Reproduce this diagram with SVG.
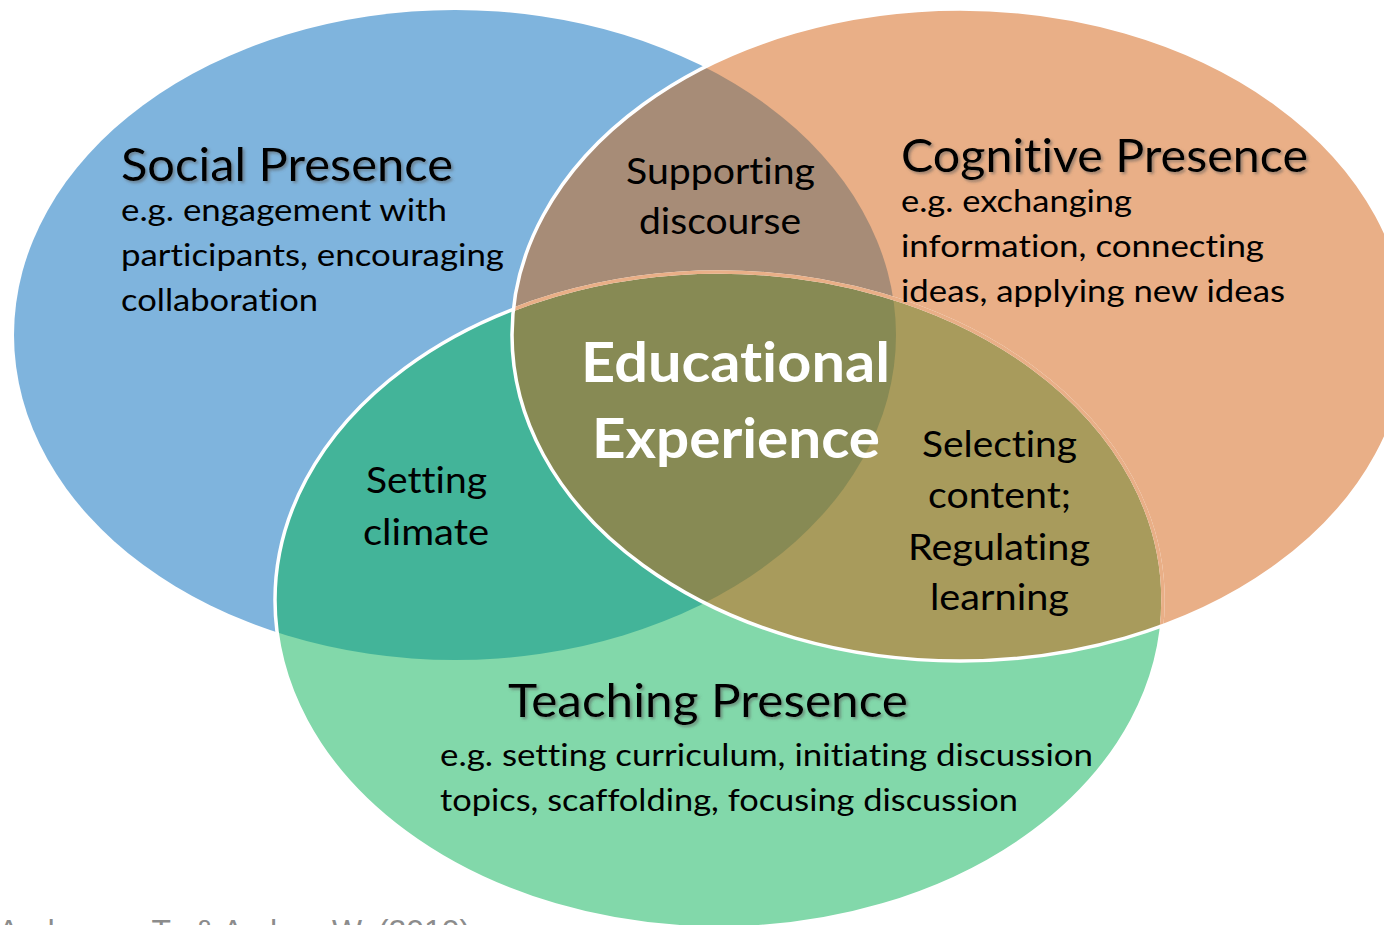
<svg xmlns="http://www.w3.org/2000/svg" width="1384" height="925" viewBox="0 0 1384 925">
<style>
  text { font-variant-ligatures: none; font-feature-settings: "liga" 0, "clig" 0; }
  .title { font-family: Lato, "Open Sans", sans-serif; font-size: 46px; fill: #000; }
  .body { font-family: Lato, "Open Sans", sans-serif; font-size: 31px; fill: #000; }
  .lbl { font-family: Lato, "Open Sans", sans-serif; font-size: 36px; fill: #000; }
  .center { font-family: Lato, "Open Sans", sans-serif; font-size: 56px; font-weight: bold; fill: #fff; }
  .cite { font-family: "Liberation Sans", Arial, sans-serif; font-size: 32px; fill: #8c8c8c; }
</style>
<defs>
  <clipPath id="clipBlue"><ellipse cx="455" cy="335" rx="441" ry="325"/></clipPath>
  <clipPath id="clipOrange"><ellipse cx="960" cy="335" rx="448" ry="326"/></clipPath>
  <filter id="shadow" x="-5%" y="-20%" width="110%" height="140%">
    <feDropShadow dx="2" dy="2" stdDeviation="1.5" flood-color="#555" flood-opacity="0.55"/>
  </filter>
</defs>
<rect width="1384" height="925" fill="#fff"/>

<g id="social-presence">
  <ellipse cx="455" cy="335" rx="441" ry="325" fill="#7FB4DD"/>
</g>
<g id="cognitive-presence">
  <ellipse cx="960" cy="335" rx="448" ry="326" fill="#E9AF87"/>
</g>
<g id="teaching-presence">
  <ellipse cx="719" cy="600" rx="444" ry="328" fill="#82D8AA"/>
</g>
<g id="supporting-discourse">
  <ellipse cx="960" cy="335" rx="448" ry="326" fill="#A78C77" clip-path="url(#clipBlue)"/>
</g>
<g id="setting-climate">
  <ellipse cx="719" cy="600" rx="444" ry="328" fill="#43B499" clip-path="url(#clipBlue)"/>
</g>
<g id="selecting-content">
  <ellipse cx="719" cy="600" rx="444" ry="328" fill="#A89B5C" clip-path="url(#clipOrange)"/>
</g>
<g id="educational-experience">
  <g clip-path="url(#clipBlue)">
    <ellipse cx="719" cy="600" rx="444" ry="328" fill="#878A54" clip-path="url(#clipOrange)"/>
  </g>
</g>

<g id="outlines">
  <ellipse cx="719" cy="600" rx="444" ry="328" fill="none" stroke="#fff" stroke-width="3.5"/>
  <ellipse cx="719" cy="600" rx="444" ry="328" fill="none" stroke="#E9AF87" stroke-width="3.5" clip-path="url(#clipOrange)"/>
  <ellipse cx="960" cy="335" rx="448" ry="326" fill="none" stroke="#fff" stroke-width="3.5"/>
</g>

<g id="texts">
  <text class="title" x="121" y="181" textLength="332" lengthAdjust="spacingAndGlyphs" filter="url(#shadow)">Social Presence</text>
  <text class="body" x="121" y="221" textLength="326" lengthAdjust="spacingAndGlyphs">e.g. engagement with</text>
  <text class="body" x="121" y="266" textLength="383" lengthAdjust="spacingAndGlyphs">participants, encouraging</text>
  <text class="body" x="121" y="311" textLength="197" lengthAdjust="spacingAndGlyphs">collaboration</text>

  <text class="title" x="901" y="172" textLength="407" lengthAdjust="spacingAndGlyphs" filter="url(#shadow)">Cognitive Presence</text>
  <text class="body" x="901" y="212" textLength="231" lengthAdjust="spacingAndGlyphs">e.g. exchanging</text>
  <text class="body" x="901" y="257" textLength="363" lengthAdjust="spacingAndGlyphs">information, connecting</text>
  <text class="body" x="901" y="302" textLength="384" lengthAdjust="spacingAndGlyphs">ideas, applying new ideas</text>

  <text class="title" x="508" y="717" textLength="400" lengthAdjust="spacingAndGlyphs" filter="url(#shadow)">Teaching Presence</text>
  <text class="body" x="440" y="766" textLength="653" lengthAdjust="spacingAndGlyphs">e.g. setting curriculum, initiating discussion</text>
  <text class="body" x="440" y="811" textLength="578" lengthAdjust="spacingAndGlyphs">topics, scaffolding, focusing discussion</text>

  <text class="lbl" x="626" y="184" textLength="189" lengthAdjust="spacingAndGlyphs">Supporting</text>
  <text class="lbl" x="639" y="234" textLength="162" lengthAdjust="spacingAndGlyphs">discourse</text>

  <text class="lbl" x="366" y="493" textLength="121" lengthAdjust="spacingAndGlyphs">Setting</text>
  <text class="lbl" x="363" y="545" textLength="126" lengthAdjust="spacingAndGlyphs">climate</text>

  <text class="lbl" x="922" y="457" textLength="155" lengthAdjust="spacingAndGlyphs">Selecting</text>
  <text class="lbl" x="928" y="508" textLength="143" lengthAdjust="spacingAndGlyphs">content;</text>
  <text class="lbl" x="908" y="560" textLength="182" lengthAdjust="spacingAndGlyphs">Regulating</text>
  <text class="lbl" x="930" y="610" textLength="139" lengthAdjust="spacingAndGlyphs">learning</text>

  <text class="center" x="581" y="382" textLength="309" lengthAdjust="spacingAndGlyphs">Educational</text>
  <text class="center" x="592" y="458" textLength="288" lengthAdjust="spacingAndGlyphs">Experience</text>

  <text class="cite" x="-2" y="942" textLength="472" lengthAdjust="spacingAndGlyphs">Anderson, T., &amp; Archer, W. (2010)</text>
</g>
</svg>
